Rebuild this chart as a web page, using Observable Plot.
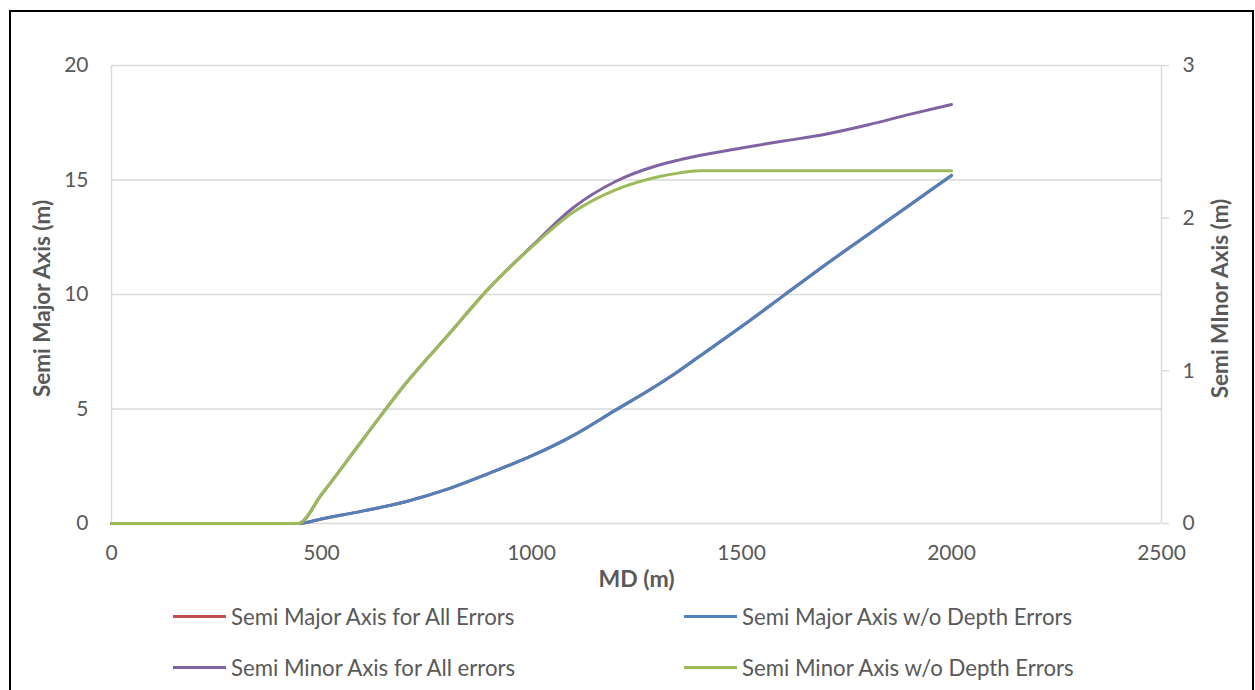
<!DOCTYPE html>
<html>
<head>
<meta charset="utf-8">
<script src="https://cdn.jsdelivr.net/npm/d3@7"></script>
<script src="https://cdn.jsdelivr.net/npm/@observablehq/plot@0.6"></script>
<style>
  html, body { margin: 0; padding: 0; background: #fff; }
  #wrap { position: relative; width: 1255px; height: 690px; overflow: hidden; font-family: Lato, "Open Sans", sans-serif; }
  #frame { position: absolute; left: 9px; top: 10px; width: 1241px; height: 720px; border: 2px solid #000; pointer-events: none; }
  #chart { position: absolute; left: 0; top: 0; }
  #legend { position: absolute; left: 0; top: 595px; width: 1255px; height: 95px; }
  .item { position: absolute; display: flex; align-items: center; font-size: 22.2px; color: #595959; white-space: nowrap; }
  .swatch { width: 53px; height: 3px; margin-right: 5px; }
</style>
</head>
<body>
<div id="wrap">
  <div id="chart"></div>
  <div id="legend"></div>
  <div id="frame"></div>
</div>
<script>
// Measured depth (m)
const md = [0, 100, 200, 300, 400, 445, 500, 600, 700, 800, 900, 1000, 1100, 1200, 1300, 1350, 1400, 1500, 1600, 1700, 1800, 1900, 2000];
// Semi major axis (m) – left axis
const semiMajorAll      = [0, 0, 0, 0, 0, 0, 0.2, 0.55, 0.95, 1.5, 2.2, 2.95, 3.85, 4.95, 6.05, 6.65, 7.3, 8.6, 9.95, 11.3, 12.6, 13.9, 15.2];
const semiMajorNoDepth  = [0, 0, 0, 0, 0, 0, 0.2, 0.55, 0.95, 1.5, 2.2, 2.95, 3.85, 4.95, 6.05, 6.65, 7.3, 8.6, 9.95, 11.3, 12.6, 13.9, 15.2];
// Semi minor axis (m) – right axis
const semiMinorAll      = [0, 0, 0, 0, 0, 0, 0.19, 0.555, 0.915, 1.23, 1.545, 1.815, 2.07, 2.24, 2.345, 2.38, 2.41, 2.46, 2.505, 2.55, 2.61, 2.68, 2.745];
const semiMinorNoDepth  = [0, 0, 0, 0, 0, 0, 0.19, 0.555, 0.915, 1.23, 1.545, 1.81, 2.04, 2.185, 2.27, 2.295, 2.31, 2.31, 2.31, 2.31, 2.31, 2.31, 2.31];

const xTicks = [0, 500, 1000, 1500, 2000, 2500];
const leftTicks = [0, 5, 10, 15, 20];
const rightTicks = [0, 1, 2, 3];

const seriesNames = [
  "Semi Major Axis for All Errors",
  "Semi Major Axis w/o Depth Errors",
  "Semi Minor Axis for All errors",
  "Semi Minor Axis w/o Depth Errors"
];
const seriesColors = ["#c0504d", "#4f81bd", "#8064a2", "#9bbb59"];

const k = 20 / 3; // right axis (0-3) mapped onto left axis (0-20)

const rows = [];
md.forEach((m, i) => {
  rows.push({md: m, v: semiMajorAll[i], s: seriesNames[0]});
  rows.push({md: m, v: semiMajorNoDepth[i], s: seriesNames[1]});
  rows.push({md: m, v: semiMinorAll[i] * k, s: seriesNames[2]});
  rows.push({md: m, v: semiMinorNoDepth[i] * k, s: seriesNames[3]});
});

const grey = "#595959";
const plot = Plot.plot({
  width: 1255,
  height: 595,
  marginLeft: 111,
  marginRight: 94,
  marginTop: 65,
  marginBottom: 72,
  style: {fontFamily: "Lato, 'Open Sans', sans-serif", fontSize: "21px", color: grey, background: "transparent"},
  x: {domain: [0, 2500]},
  y: {domain: [0, 20]},
  color: {domain: seriesNames, range: seriesColors},
  marks: [
    Plot.gridY(leftTicks, {stroke: "#d9d9d9", strokeOpacity: 1, strokeWidth: 1.5}),
    Plot.ruleX([0], {stroke: "#d9d9d9", strokeWidth: 1.5}),
    Plot.ruleX([2500], {stroke: "#d9d9d9", strokeWidth: 1.5}),
    Plot.axisY({ticks: leftTicks, tickSize: 0, tickPadding: 23, label: null, fill: grey}),
    Plot.axisY({anchor: "right", ticks: rightTicks.map(v => v * k), tickFormat: d => String(Math.round(d / k)),
      tickSize: 7, tickPadding: 14, stroke: "#d9d9d9", strokeWidth: 1.5, label: null, fill: grey}),
    Plot.axisX({ticks: xTicks, tickFormat: d => String(d), tickSize: 0, tickPadding: 22, label: null, fill: grey}),
    Plot.text(["Semi Major Axis (m)"], {text: d => d, frameAnchor: "left", textAnchor: "middle", lineAnchor: "middle", dx: -69, dy: 4, rotate: -90, fontWeight: "bold", fontSize: 22.5, fill: grey}),
    Plot.text(["Semi MInor Axis (m)"], {text: d => d, frameAnchor: "right", textAnchor: "middle", lineAnchor: "middle", dx: 59, dy: 4, rotate: -90, fontWeight: "bold", fontSize: 22.5, fill: grey}),
    Plot.text(["MD (m)"], {text: d => d, frameAnchor: "bottom", textAnchor: "middle", lineAnchor: "middle", dy: 56, fontWeight: "bold", fontSize: 23, fill: grey}),
    Plot.line(rows, {x: "md", y: "v", z: "s", stroke: "s", strokeWidth: 3, strokeLinejoin: "round", curve: "monotone-x"})
  ]
});
document.getElementById("chart").appendChild(plot);

// Legend below the chart
const legendPos = [[173, 21], [684, 21], [173, 72], [684, 72]];
const legend = document.getElementById("legend");
seriesNames.forEach((name, i) => {
  const item = document.createElement("div");
  item.className = "item";
  item.style.left = legendPos[i][0] + "px";
  item.style.top = (legendPos[i][1] - 13) + "px";
  item.style.height = "26px";
  const sw = document.createElement("span");
  sw.className = "swatch";
  sw.style.background = seriesColors[i];
  const t = document.createElement("span");
  t.textContent = name;
  item.appendChild(sw);
  item.appendChild(t);
  legend.appendChild(item);
});
</script>
</body>
</html>
